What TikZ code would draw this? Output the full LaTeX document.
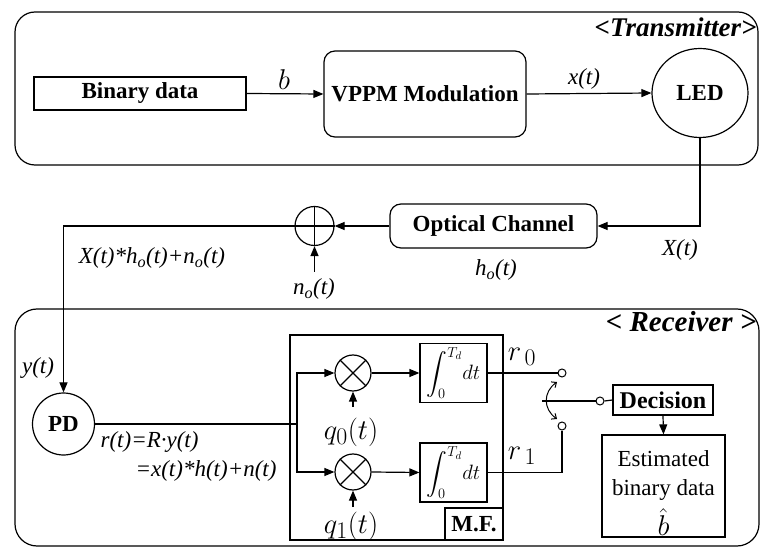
\documentclass[tikz,border=0pt]{standalone}
\usepackage{exscale}
\usepackage{graphicx}
\usepackage{fontspec}
\setmainfont{Liberation Serif}
\usetikzlibrary{arrows.meta,shapes.geometric}
\newcommand{\mybigmath}[1]{\scalebox{1.15}{$#1$}}
\begin{document}
\begin{tikzpicture}[x=1pt,y=-1pt, line width=1.2pt,
  every node/.style={font=\fontsize{23}{27}\selectfont},
  box/.style={draw, rectangle, inner sep=0pt},
  rbox/.style={box, rounded corners=11pt},
  lab/.style={font=\fontsize{23}{27}\selectfont\itshape, inner sep=0pt},
  mlab/.style={font=\fontsize{24.88}{29}\selectfont, inner sep=0pt},
  bold/.style={font=\fontsize{23}{27}\selectfont\bfseries},
  title/.style={font=\fontsize{27}{31}\selectfont\bfseries\itshape, inner sep=0pt, anchor=base east},
  arr/.style={-{Triangle[length=10pt,width=8pt]}},
  mult/.style={draw, circle, minimum size=36pt, inner sep=0pt},
  contact/.style={draw, circle, minimum size=8pt, inner sep=0pt, fill=white, line width=1pt},
  integ/.style={box, minimum width=67pt, minimum height=59pt, font=\fontsize{22}{26}\selectfont}
]
\useasboundingbox (0,0) rectangle (764,548);
% frames
\draw[rounded corners=20pt] (15,12) rectangle (758,165);
\draw[rounded corners=22pt] (15,309) rectangle (759,546);
\node[title] (ttl) at (757,37) {<Transmitter>};
\node[title, font=\fontsize{29}{33}\selectfont\bfseries\itshape] (rtl) at (757,332) {< Receiver >};

% transmitter
\node[box, minimum width=212pt, minimum height=33pt, bold] (bin) at (140,93.5) {Binary data};
\node[rbox, minimum width=202pt, minimum height=86pt, bold] (vppm) at (425,94) {VPPM Modulation};
\node[draw, ellipse, minimum width=96pt, minimum height=89pt, inner sep=0pt, bold] (led) at (700,93) {LED};
\draw[arr] (bin.east) -- (vppm.west);
\draw[arr] (vppm.east) -- (led.west);
\node[mlab] (lb) at (284,80) {\mybigmath{b}};
\node[lab] (lx) at (584,79) {x(t)};

% channel
\node[rbox, minimum width=207pt, minimum height=44pt, bold] (och) at (493.5,226) {Optical Channel};
\node[draw, circle, minimum size=39pt, inner sep=0pt] (sum) at (314.5,226) {};
\draw (sum.north) -- (sum.south) (sum.west) -- (sum.east);
\draw[arr] (led.south) |- (och.east);
\draw[arr] (och.west) -- (sum.east);
\node[lab] (lX) at (680,250) {X(t)};
\node[lab] (lh) at (496,270) {h\textsubscript{o}(t)};
\node[lab] (lno) at (314,289) {n\textsubscript{o}(t)};
\coordinate (not) at (314.5,272);
\draw[arr] (not) -- (sum.south);
\node[lab] (lsum) at (152,258) {X(t)*h\textsubscript{o}(t)+n\textsubscript{o}(t)};

% receiver
\node[draw, circle, minimum size=62pt, inner sep=0pt, bold] (pd) at (63.5,424) {PD};
\draw[arr] (sum.west) -| (pd.north);
\node[lab] (ly) at (38,368) {y(t)};
\node[lab, anchor=west] (lr1) at (100,442) {r(t)=R·y(t)};
\node[lab, anchor=west] (lr2) at (135,471) {=x(t)*h(t)+n(t)};

\node[box, minimum width=213pt, minimum height=205pt] (mf) at (396.5,437.5) {};
\node[box, minimum width=58pt, minimum height=32pt, bold, anchor=south east] (mfl) at (mf.south east) {M.F.};

\node[mult] (m1) at (353,373) {};
\draw (m1.north east) -- (m1.south west) (m1.north west) -- (m1.south east);
\node[mult] (m2) at (353,472) {};
\draw (m2.north east) -- (m2.south west) (m2.north west) -- (m2.south east);

\node[integ] (i1) at (453.5,373) {$\displaystyle\int_0^{T_d}\! dt$};
\node[integ] (i2) at (453.5,472.5) {$\displaystyle\int_0^{T_d}\! dt$};

\node[mlab] (q0) at (351,432) {\mybigmath{q_0(t)}};
\node[mlab] (q1) at (351,526) {\mybigmath{q_1(t)}};
\coordinate (q0t) at (353,407);
\coordinate (q1t) at (353,507);
\draw[arr] (q0t) -- (m1.south);
\draw[arr] (q1t) -- (m2.south);

\coordinate (j) at (297,424);
\draw (pd.east) -- (j);
\draw[arr] (j) |- (m1.west);
\draw[arr] (j) |- (m2.west);
\draw[arr] (m1.east) -- (i1.west);
\draw[arr] (m2.east) -- (i2.west);

\node[mlab] (r0) at (522,357) {\mybigmath{r_{\,0}}};
\node[mlab] (r1) at (522,456) {\mybigmath{r_{\,1}}};

\node[contact] (c1) at (562,373) {};
\node[contact] (c2) at (562,426) {};
\node[contact] (cc) at (600,401) {};
\draw (i1.east) -- (c1.west);
\draw (i2.east) -| (c2.south);
\coordinate (sw) at (542,401);
\draw (sw) -- (cc.west);
\coordinate (a1) at (557,382);
\coordinate (a2) at (557,419);
\draw[{Straight Barb[length=4pt,width=7pt]}-{Straight Barb[length=4pt,width=7pt]}, line width=1pt] (a1) .. controls (543,392) and (543,409) .. (a2);

\node[box, minimum width=100pt, minimum height=30pt, bold, font=\fontsize{24}{28}\selectfont\bfseries] (dec) at (663,400) {Decision};
\draw (cc.east) -- (dec.west);
\node[box, minimum width=123pt, minimum height=102pt, align=center, font=\fontsize{23}{29}\selectfont] (est) at (663.5,486) {\rule{0pt}{30pt}Estimated\\binary data\\[7pt]\mybigmath{\hat{b}}};
\draw[arr] (dec.south) -- (est.north);
\end{tikzpicture}
\end{document}
